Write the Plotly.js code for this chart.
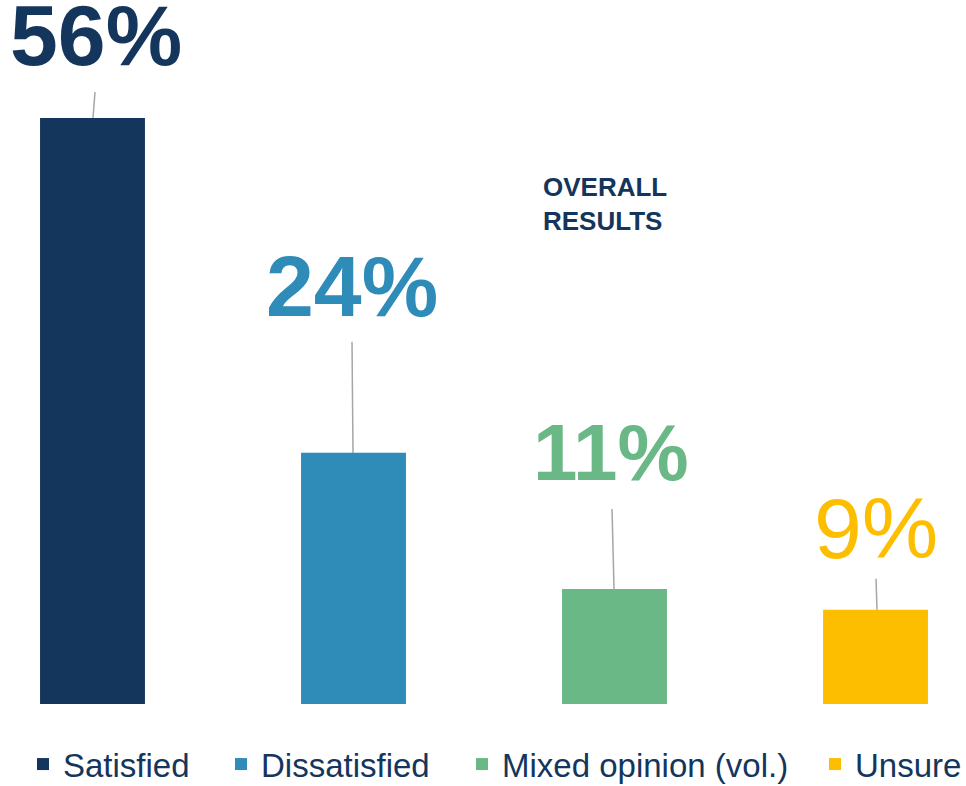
<!DOCTYPE html>
<html>
<head>
<meta charset="utf-8">
<script src="https://cdn.plot.ly/plotly-3.0.1.min.js"></script>
<style>html,body{margin:0;padding:0;background:#fff;}#chart{width:966px;height:786px;}</style>
</head>
<body>
<div id="chart"></div>
<script>
// Data
var categories = ["Satisfied", "Dissatisfied", "Mixed opinion (vol.)", "Unsure"];
var values = [56, 24, 11, 9];
var valueLabels = ["56%", "24%", "11%", "9%"];
var colors = ["#14365D", "#2F8CB8", "#69B886", "#FDBE00"];

// label styling/placement (pixel offsets from bar tops)
var labelBold = [true, true, true, false];
var labelSize = [86, 86, 80, 86];
var labelYShift = [83, 167, 136, 82];
var labelXShift = [3, -2, -4, 0];
var leaderLen = [26, 111, 80, 31];
var leaderTopDx = [2.5, -1.5, -2.5, 0.5];
var leaderBotDx = [0.5, -0.5, -0.5, 1.5];
var legendIds = ["legend", "legend2", "legend3", "legend4"];
var legendX = [23, 221, 462, 815];

var H = 704, W = 966;
var FONT = "Liberation Sans, Arial, Helvetica, sans-serif";

var traces = categories.map(function (c, i) {
  return {
    type: "bar",
    x: [i],
    y: [values[i]],
    name: c,
    legend: legendIds[i],
    width: 0.402,
    marker: { color: colors[i] },
    hoverinfo: "skip"
  };
});

var annotations = values.map(function (v, i) {
  return {
    x: i, y: v, xref: "x", yref: "y",
    text: labelBold[i] ? "<b>" + valueLabels[i] + "</b>" : valueLabels[i],
    showarrow: false,
    xanchor: "center", yanchor: "middle",
    xshift: labelXShift[i], yshift: labelYShift[i],
    font: { family: FONT, size: labelSize[i], color: colors[i] }
  };
});
annotations.push({
  x: 541 / W, y: 1 - 203.5 / H, xref: "paper", yref: "paper",
  text: "<b>OVERALL<br>RESULTS</b>",
  showarrow: false, align: "left", xanchor: "left", yanchor: "middle",
  font: { family: FONT, size: 26, color: "#14365D" }
});

var shapes = values.map(function (v, i) {
  return {
    type: "line", xref: "x", yref: "y",
    xsizemode: "pixel", ysizemode: "pixel",
    xanchor: i, yanchor: v,
    x0: leaderBotDx[i], x1: leaderTopDx[i],
    y0: 0, y1: leaderLen[i],
    line: { color: "#A6A6A6", width: 1.5 },
    layer: "below"
  };
});

var layout = {
  width: 966, height: 786,
  margin: { l: 0, r: 0, t: 0, b: 82, autoexpand: false },
  paper_bgcolor: "#ffffff", plot_bgcolor: "#ffffff",
  barmode: "overlay",
  showlegend: true,
  xaxis: { range: [-0.3544, 3.3467], visible: false, fixedrange: true },
  yaxis: { range: [0, 67.28], visible: false, fixedrange: true },
  annotations: annotations,
  shapes: shapes
};
legendIds.forEach(function (id, i) {
  layout[id] = {
    orientation: "h", x: legendX[i] / W, xanchor: "left", y: -0.0456, yanchor: "top",
    bgcolor: "rgba(0,0,0,0)",
    font: { family: FONT, size: 33, color: "#14365D" },
    itemclick: false, itemdoubleclick: false
  };
});

Plotly.newPlot("chart", traces, layout, { displayModeBar: false, staticPlot: true });
</script>
</body>
</html>
